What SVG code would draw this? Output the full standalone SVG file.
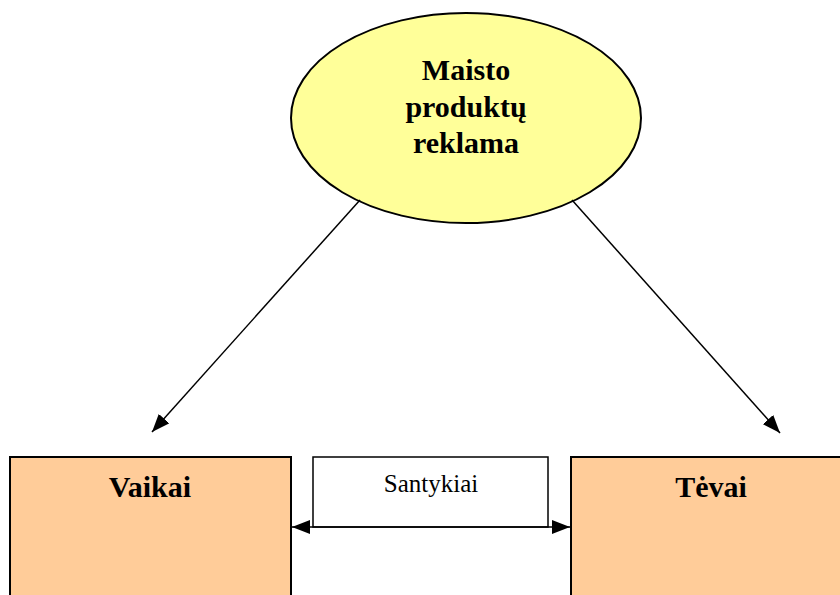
<svg xmlns="http://www.w3.org/2000/svg" width="840" height="595" viewBox="0 0 840 595">
  <style>
    .bold { font-family: "Liberation Serif", "Times New Roman", serif; font-weight: bold; font-size: 30px; fill: #000; text-anchor: middle; }
    .reg { font-family: "Liberation Serif", "Times New Roman", serif; font-size: 25px; fill: #000; text-anchor: middle; }
    .conn { stroke: #000; stroke-width: 1.5; fill: none; }
    .box { fill: #FFCC99; stroke: #000; stroke-width: 2; }
  </style>
  <defs>
    <marker id="arr" markerUnits="userSpaceOnUse" markerWidth="18" markerHeight="14" refX="18" refY="7" orient="auto-start-reverse">
      <path d="M0,0 L18,7 L0,14 z" fill="#000"/>
    </marker>
  </defs>
  <rect width="840" height="595" fill="#fff"/>

  <g id="reklama">
    <ellipse cx="466" cy="118" rx="175" ry="105" fill="#FFFF99" stroke="#000" stroke-width="2"/>
    <text class="bold" x="466" y="80">Maisto</text>
    <text class="bold" x="466" y="117">produktų</text>
    <text class="bold" x="466" y="153">reklama</text>
  </g>

  <g id="vaikai">
    <rect class="box" x="10" y="457" width="281" height="150"/>
    <text class="bold" x="150" y="497">Vaikai</text>
  </g>

  <g id="tevai">
    <rect class="box" x="571" y="457" width="280" height="150"/>
    <text class="bold" x="711" y="497">Tėvai</text>
  </g>

  <g id="santykiai">
    <rect x="313" y="457" width="235" height="70" fill="#fff" stroke="#000" stroke-width="1.5"/>
    <text class="reg" x="431" y="492">Santykiai</text>
  </g>

  <g id="connectors">
    <line class="conn" x1="360" y1="200" x2="152" y2="432" marker-end="url(#arr)"/>
    <line class="conn" x1="572" y1="200" x2="780" y2="433" marker-end="url(#arr)"/>
    <line class="conn" x1="292" y1="527" x2="570" y2="527" marker-start="url(#arr)" marker-end="url(#arr)"/>
  </g>
</svg>
